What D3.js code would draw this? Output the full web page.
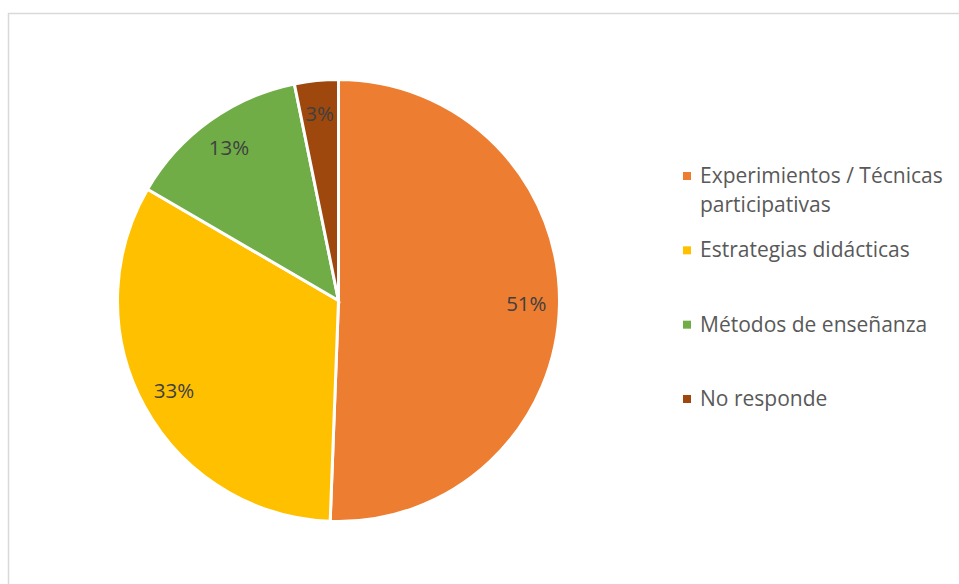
<!DOCTYPE html>
<html>
<head>
<meta charset="utf-8">
<script src="https://cdn.jsdelivr.net/npm/d3@7"></script>
<style>
  html, body { margin: 0; padding: 0; background: #fff; }
  svg { display: block; font-family: "Open Sans", Lato, sans-serif; }
</style>
</head>
<body>
<div id="chart"></div>
<script>
let categories = ['Experimientos / Técnicas participativas', 'Estrategias didácticas', 'Métodos de enseñanza', 'No responde'];
let legendLines = [['Experimientos / Técnicas', 'participativas'], ['Estrategias didácticas'], ['Métodos de enseñanza'], ['No responde']];
let values = [50.6, 32.8, 13.4, 3.2];
let labels = ['51%', '33%', '13%', '3%'];
let colors = ['#ED7D31', '#FFC000', '#70AD47', '#9E480E'];

let width = 959;
let height = 584;
let cx = 338.5, cy = 300.5;
let radius = 221;

let svg = d3.select('#chart')
  .append('svg')
  .attr('width', width)
  .attr('height', height);

// chart frame (right and bottom edges fall outside the picture)
svg.append('rect')
  .attr('x', 8.5)
  .attr('y', 13.5)
  .attr('width', 1000)
  .attr('height', 1000)
  .attr('fill', 'none')
  .attr('stroke', '#d9d9d9')
  .attr('stroke-width', 1.5);

let color = d3.scaleOrdinal().domain(categories).range(colors);

let pie = d3.pie().sort(null).value(d => d.value);
let arc = d3.arc().outerRadius(radius).innerRadius(0);
let labelArc = d3.arc().outerRadius(radius * 0.85).innerRadius(radius * 0.85);

let pieData = categories.map((c, i) => ({ label: c, value: values[i], text: labels[i] }));

let g = svg.append('g')
  .attr('transform', `translate(${cx},${cy})`);

let arcs = g.selectAll('.arc')
  .data(pie(pieData))
  .enter()
  .append('g')
  .attr('class', 'arc');

arcs.append('path')
  .attr('d', arc)
  .attr('fill', d => color(d.data.label))
  .attr('stroke', 'white')
  .style('stroke-width', '3px');

arcs.append('text')
  .attr('transform', d => `translate(${labelArc.centroid(d)})`)
  .attr('text-anchor', 'middle')
  .attr('dy', '0.35em')
  .style('font-size', '20.5px')
  .style('fill', '#404040')
  .text(d => d.data.text);

// legend
let legendY = d3.scalePoint().domain(categories).range([183, 406]);

let legend = svg.append('g')
  .selectAll('g')
  .data(categories)
  .enter()
  .append('g')
  .attr('transform', d => `translate(683,${legendY(d)})`);

legend.append('rect')
  .attr('x', 0)
  .attr('y', -11)
  .attr('width', 8)
  .attr('height', 8)
  .attr('fill', d => color(d));

legend.append('text')
  .attr('x', 17)
  .style('font-size', '21px')
  .style('fill', '#595959')
  .selectAll('tspan')
  .data((d, i) => legendLines[i])
  .enter()
  .append('tspan')
  .attr('x', 17)
  .attr('dy', (d, i) => i === 0 ? 0 : 29)
  .text(d => d);
</script>
</body>
</html>
